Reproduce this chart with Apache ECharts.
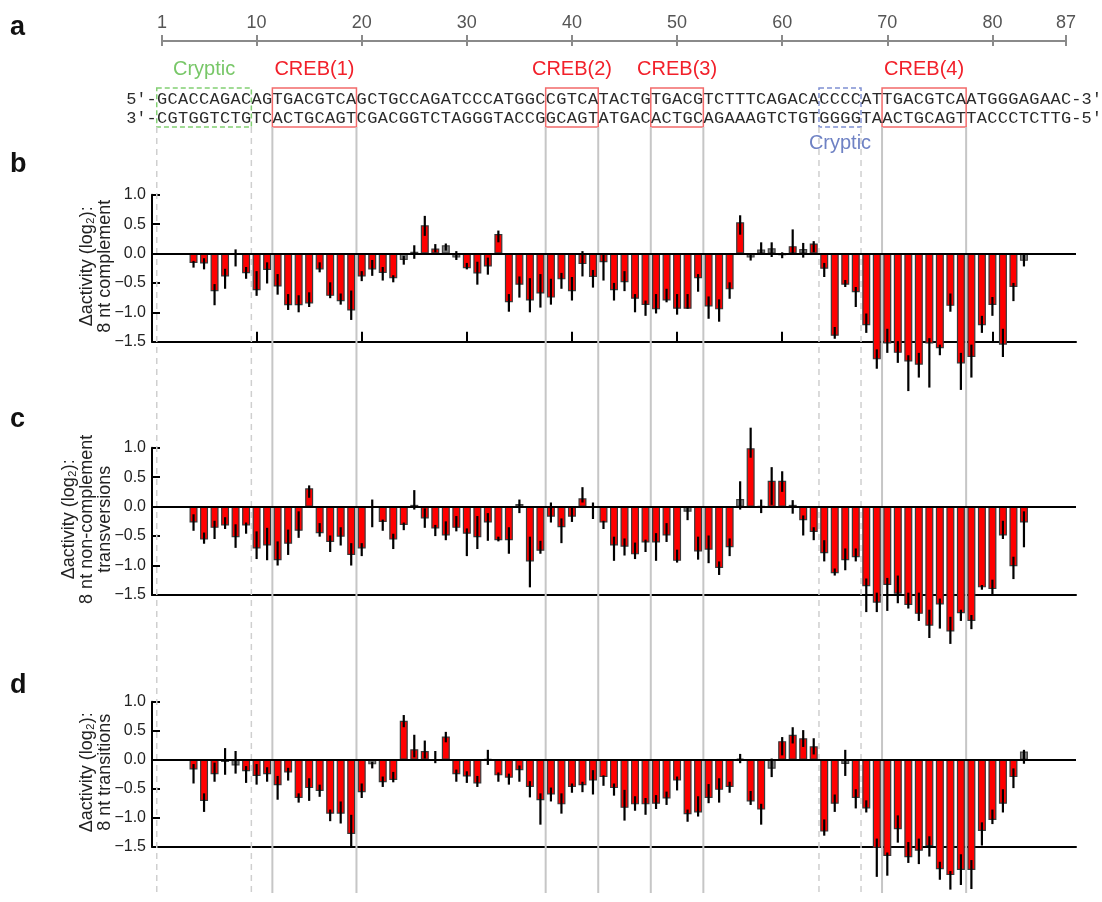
<!DOCTYPE html>
<html>
<head>
<meta charset="utf-8">
<title>CREB site scanning</title>
<style>
  html, body { margin: 0; padding: 0; background: #fff; }
  #main { width: 1102px; height: 902px; }
</style>
</head>
<body>
<div id="main"></div>
<script src="https://cdn.jsdelivr.net/npm/echarts@6/dist/echarts.min.js"></script>
<script>
// sequence (87 nt), top strand 5'->3', bottom strand 3'->5'
var seqTop    = 'GCACCAGACAGTGACGTCAGCTGCCAGATCCCATGGCCGTCATACTGTGACGTCTTTCAGACACCCCATTGACGTCAATGGGAGAAC';
var seqBottom = 'CGTGGTCTGTCACTGCAGTCGACGGTCTAGGGTACCGGCAGTATGACACTGCAGAAAGTCTGTGGGGTAACTGCAGTTACCCTCTTG';

var rulerTicks = [1, 10, 20, 30, 40, 50, 60, 70, 80, 87];
var panelTicks = [10, 20, 30, 40, 50, 60, 70, 80];

var siteNames = ['Cryptic', 'CREB(1)', 'CREB(2)', 'CREB(3)', 'Cryptic', 'CREB(4)'];
var siteFrom  = [1, 12, 38, 48, 64, 70];
var siteTo    = [9, 19, 42, 52, 67, 77];
var siteKind  = ['green', 'red', 'red', 'red', 'blue', 'red'];

// bars start at position 4 and run to 83
var firstPos = 4;

// b: 8 nt complement
var compVal = [-0.16,-0.17,-0.64,-0.39,-0.02,-0.335,-0.625,-0.28,-0.56,-0.88,
  -0.88,-0.85,-0.27,-0.72,-0.81,-0.97,-0.39,-0.27,-0.33,-0.42,
  -0.11,0.03,0.48,0.085,0.14,-0.07,-0.25,-0.34,-0.22,0.33,
  -0.83,-0.53,-0.8,-0.68,-0.75,-0.44,-0.64,-0.18,-0.4,-0.15,
  -0.625,-0.49,-0.77,-0.875,-0.95,-0.8,-0.94,-0.94,-0.42,-0.9,
  -0.95,-0.61,0.53,-0.07,0.07,0.09,-0.03,0.125,0.075,0.17,
  -0.26,-1.4,-0.53,-0.66,-1.22,-1.8,-1.53,-1.69,-1.835,-1.89,
  -1.53,-1.61,-0.89,-1.87,-1.76,-1.22,-0.875,-1.55,-0.57,-0.125];
var compLo = [-0.24,-0.27,-0.88,-0.6,-0.22,-0.43,-0.72,-0.51,-0.7,-0.96,
  -1.0,-0.91,-0.32,-0.76,-0.87,-1.13,-0.47,-0.38,-0.46,-0.49,
  -0.19,-0.09,0.3,0.02,0.05,-0.11,-0.27,-0.53,-0.36,0.19,
  -0.99,-0.75,-1.0,-0.92,-0.87,-0.6,-0.8,-0.39,-0.58,-0.46,
  -0.8,-0.64,-1.0,-1.06,-1.02,-0.83,-1.04,-0.94,-0.65,-1.11,
  -1.16,-0.77,0.32,-0.12,-0.02,-0.06,-0.08,-0.02,-0.07,0.02,
  -0.4,-1.45,-0.57,-0.91,-1.35,-1.96,-1.69,-1.86,-2.34,-2.11,
  -2.28,-1.73,-0.99,-2.32,-2.11,-1.35,-1.06,-1.76,-0.81,-0.22];
var compHi = [-0.125,-0.08,-0.52,-0.26,0.07,-0.23,-0.3,-0.15,-0.35,-0.69,
  -0.71,-0.66,-0.15,-0.49,-0.68,-0.63,-0.3,-0.11,-0.23,-0.37,
  -0.04,0.14,0.64,0.16,0.17,0.04,-0.16,-0.14,-0.07,0.39,
  -0.69,-0.39,-0.42,-0.35,-0.43,-0.33,-0.4,0.04,-0.28,-0.02,
  -0.5,-0.3,-0.69,-0.8,-0.69,-0.6,-0.69,-0.69,-0.35,-0.73,
  -0.78,-0.49,0.65,-0.02,0.19,0.19,0.02,0.41,0.18,0.21,
  -0.16,-1.25,-0.45,-0.57,-1.02,-1.63,-1.28,-1.49,-1.73,-1.69,
  -1.44,-1.55,-0.68,-1.69,-1.55,-1.06,-0.74,-1.28,-0.5,-0.02];
var compGray = [8, 24, 25, 28, 29, 57, 58, 59, 60, 62, 83];

// c: 8 nt non-complement transversions
var tvVal = [-0.27,-0.56,-0.36,-0.32,-0.52,-0.32,-0.71,-0.66,-0.91,-0.63,
  -0.41,0.31,-0.45,-0.6,-0.51,-0.82,-0.71,-0.02,-0.26,-0.56,
  -0.31,0.03,-0.2,-0.37,-0.49,-0.36,-0.46,-0.52,-0.27,-0.57,
  -0.57,0.045,-0.93,-0.75,-0.17,-0.35,-0.17,0.14,-0.01,-0.27,
  -0.66,-0.68,-0.81,-0.61,-0.61,-0.49,-0.92,-0.085,-0.76,-0.73,
  -1.04,-0.69,0.13,0.99,0.01,0.44,0.44,0.03,-0.23,-0.43,
  -0.79,-1.13,-0.91,-0.86,-1.35,-1.63,-1.33,-1.48,-1.67,-1.82,
  -2.02,-1.66,-2.12,-1.81,-1.94,-1.37,-1.4,-0.49,-1.01,-0.27];
var tvLo = [-0.41,-0.63,-0.55,-0.38,-0.7,-0.46,-0.89,-0.91,-1.0,-0.82,
  -0.53,0.15,-0.51,-0.77,-0.66,-1.0,-0.84,-0.35,-0.41,-0.72,
  -0.4,-0.05,-0.36,-0.5,-0.57,-0.42,-0.84,-0.72,-0.58,-0.59,
  -0.8,-0.11,-1.37,-0.8,-0.27,-0.62,-0.26,0.07,-0.21,-0.38,
  -0.92,-0.83,-0.89,-0.77,-0.92,-0.6,-0.95,-0.23,-0.9,-0.96,
  -1.16,-0.84,-0.05,0.83,-0.11,0.03,0.25,-0.12,-0.49,-0.57,
  -0.93,-1.17,-1.08,-0.93,-1.79,-1.79,-1.77,-1.64,-1.73,-1.94,
  -2.23,-2.07,-2.33,-1.94,-2.08,-1.41,-1.51,-0.55,-1.23,-0.69];
var tvHi = [-0.13,-0.44,-0.24,-0.18,-0.3,-0.27,-0.42,-0.36,-0.59,-0.39,
  -0.08,0.36,-0.28,-0.49,-0.35,-0.62,-0.62,0.12,-0.22,-0.46,
  -0.27,0.28,-0.03,-0.31,-0.25,-0.16,-0.37,-0.16,-0.11,-0.51,
  -0.35,0.12,-0.51,-0.58,0.07,-0.2,-0.01,0.33,0.07,-0.24,
  -0.51,-0.54,-0.61,-0.56,-0.45,-0.28,-0.73,-0.01,-0.51,-0.49,
  -0.93,-0.54,0.43,1.34,0.12,0.67,0.6,0.11,-0.15,-0.35,
  -0.57,-1.05,-0.71,-0.71,-1.22,-1.46,-1.21,-1.17,-1.46,-1.46,
  -1.75,-1.56,-1.87,-1.75,-1.84,-1.33,-1.24,-0.24,-0.85,-0.08];
var tvGray = [21, 25, 35, 42, 51, 56, 58, 61];

// d: 8 nt transitions
var tsVal = [-0.17,-0.71,-0.25,-0.04,-0.1,-0.2,-0.28,-0.25,-0.44,-0.22,
  -0.66,-0.49,-0.54,-0.93,-0.93,-1.28,-0.56,-0.08,-0.39,-0.35,
  0.67,0.18,0.15,-0.02,0.4,-0.25,-0.29,-0.41,0.01,-0.27,
  -0.31,-0.18,-0.47,-0.7,-0.6,-0.77,-0.47,-0.44,-0.36,-0.3,
  -0.49,-0.83,-0.77,-0.77,-0.76,-0.67,-0.36,-0.94,-0.91,-0.66,
  -0.52,-0.47,0.02,-0.72,-0.86,-0.155,0.32,0.43,0.37,0.23,
  -1.24,-0.76,-0.075,-0.66,-0.84,-1.52,-1.66,-1.2,-1.68,-1.57,
  -1.49,-1.89,-1.99,-1.9,-1.9,-1.23,-1.04,-0.76,-0.3,0.14];
var tsLo = [-0.41,-0.9,-0.38,-0.26,-0.24,-0.4,-0.43,-0.38,-0.69,-0.36,
  -0.74,-0.71,-0.64,-1.06,-1.1,-1.52,-0.66,-0.15,-0.47,-0.39,
  0.56,0.04,0.02,-0.06,0.3,-0.38,-0.4,-0.47,-0.09,-0.38,
  -0.43,-0.38,-0.65,-1.12,-0.72,-0.93,-0.57,-0.56,-0.6,-0.45,
  -0.62,-1.05,-0.88,-0.95,-0.85,-0.78,-0.53,-1.07,-0.98,-0.75,
  -0.74,-0.57,-0.06,-0.78,-1.12,-0.3,0.075,0.28,0.22,0.09,
  -1.31,-0.9,-0.28,-0.84,-0.91,-2.02,-2.0,-1.43,-1.78,-1.8,
  -1.67,-2.07,-2.24,-2.16,-2.23,-1.48,-1.11,-0.91,-0.49,-0.07];
var tsHi = [-0.075,-0.58,-0.05,0.2,0.15,-0.11,-0.075,-0.13,-0.28,-0.14,
  -0.58,-0.32,-0.43,-0.86,-0.72,-0.95,-0.41,-0.035,-0.29,-0.21,
  0.77,0.43,0.33,0.15,0.48,-0.17,-0.2,-0.28,0.17,-0.22,
  -0.24,-0.1,-0.37,-0.58,-0.48,-0.58,-0.41,-0.38,-0.18,-0.27,
  -0.41,-0.52,-0.63,-0.66,-0.61,-0.55,-0.29,-0.86,-0.63,-0.42,
  -0.32,-0.38,0.1,-0.54,-0.76,0.02,0.39,0.56,0.51,0.37,
  -1.03,-0.6,0.17,-0.51,-0.7,-1.36,-1.6,-0.96,-1.42,-1.36,
  -1.32,-1.76,-1.92,-1.63,-1.73,-1.08,-0.86,-0.51,-0.15,0.17];
var tsGray = [7, 8, 21, 27, 32, 56, 59, 66, 83];

var panels = [
  { key: 'b', val: compVal, lo: compLo, hi: compHi, gray: compGray, top: 194.7, height: 147, letterY: 165,
    title: 'Δactivity (log₂):\n8 nt complement', titleX: 96, ticks: true },
  { key: 'c', val: tvVal, lo: tvLo, hi: tvHi, gray: tvGray, top: 447.7, height: 147.3, letterY: 420,
    title: 'Δactivity (log₂):\n8 nt non-complement\ntransversions', titleX: 87, ticks: false },
  { key: 'd', val: tsVal, lo: tsLo, hi: tsHi, gray: tsGray, top: 701.7, height: 145, letterY: 686,
    title: 'Δactivity (log₂):\n8 nt transitions', titleX: 96, ticks: false }
];

// layout: ruler runs 1..87 from x=162 to x=1066, panels span x=152..1076
var rulerLeft = 162, rulerRight = 1066, panelLeft = 152, panelRight = 1076;
var pxPerNt = (rulerRight - rulerLeft) / 86;
var panelMin = 1 - (rulerLeft - panelLeft) / pxPerNt;
var panelMax = 1 + (panelRight - rulerLeft) / pxPerNt;

var SANS = '"Liberation Sans", Arial, Helvetica, sans-serif';
var MONO = '"Liberation Mono", "Courier New", monospace';
var boxColor = { green: '#82cf73', red: '#f26a6a', blue: '#7f90d2' };
var labelColor = { green: '#78c768', red: '#f2202a', blue: '#6f82c4' };

var grids = [{ left: rulerLeft, top: 40, width: rulerRight - rulerLeft, height: 1 }];
var xAxes = [
  { gridIndex: 0, type: 'value', min: 1, max: 87, position: 'top',
    axisLine: { lineStyle: { color: '#8a8a8a', width: 2 } },
    axisTick: { customValues: rulerTicks, length: 6, lineStyle: { color: '#8a8a8a', width: 2 } },
    axisLabel: { customValues: rulerTicks, fontSize: 18, color: '#555', fontFamily: SANS, margin: 8 },
    splitLine: { show: false } },
  { gridIndex: 0, type: 'value', min: 1, max: 87, position: 'bottom',
    axisLine: { show: false },
    axisTick: { customValues: rulerTicks, length: 5, lineStyle: { color: '#8a8a8a', width: 2 } },
    axisLabel: { show: false }, splitLine: { show: false } }
];
var yAxes = [{ gridIndex: 0, type: 'value', min: 0, max: 1, show: false }];

var seqData = [];
for (var i = 0; i < seqTop.length; i++) {
  seqData.push([i + 1, 0]);
  seqData.push([i + 1, 1]);
}
var siteData = siteFrom.map(function (f, i) { return [f, siteTo[i]]; });

var series = [
  { type: 'custom', xAxisIndex: 0, yAxisIndex: 0, z: 1, silent: true, data: siteData,
    renderItem: function (params, api) {
      var i = params.dataIndex, kind = siteKind[i];
      var x0 = api.coord([api.value(0) - 0.5, 0])[0];
      var x1 = api.coord([api.value(1) + 0.5, 0])[0];
      var dashed = kind !== 'red';
      var guide = { stroke: dashed ? '#cfcfcf' : '#c6c6c6', lineWidth: dashed ? 1.5 : 2, lineDash: dashed ? [6, 5] : null };
      return { type: 'group', children: [
        { type: 'rect', shape: { x: x0, y: 88, width: x1 - x0, height: 39 },
          style: { fill: null, stroke: boxColor[kind], lineWidth: 1.5, lineDash: dashed ? [5, 3] : null } },
        { type: 'line', shape: { x1: x0, y1: 127, x2: x0, y2: 893 }, style: guide },
        { type: 'line', shape: { x1: x1, y1: 127, x2: x1, y2: 893 }, style: guide },
        { type: 'text', x: (x0 + x1) / 2, y: kind === 'blue' ? 143 : 69,
          style: { text: siteNames[i], fill: labelColor[kind], font: '20px ' + SANS,
                   textAlign: 'center', textVerticalAlign: 'middle' } }
      ] };
    } },
  { type: 'custom', xAxisIndex: 0, yAxisIndex: 0, z: 6, silent: true, data: seqData,
    renderItem: function (params, api) {
      var pos = api.value(0), strand = api.value(1);
      var x = api.coord([pos, 0])[0];
      var ch = (strand === 0 ? seqTop : seqBottom).charAt(pos - 1);
      return { type: 'text', x: x, y: strand === 0 ? 99 : 118,
        style: { text: ch, fill: '#2a2a2a', font: '17px ' + MONO, textAlign: 'center', textVerticalAlign: 'middle' } };
    } }
];

var graphics = [
  { type: 'text', x: 10, y: 28, style: { text: 'a', font: 'bold 27px ' + SANS, fill: '#111', textVerticalAlign: 'middle' } },
  { type: 'text', x: rulerLeft - pxPerNt / 2, y: 99, style: { text: '5′-', font: '17px ' + MONO, fill: '#2a2a2a', textAlign: 'right', textVerticalAlign: 'middle' } },
  { type: 'text', x: rulerLeft - pxPerNt / 2, y: 118, style: { text: '3′-', font: '17px ' + MONO, fill: '#2a2a2a', textAlign: 'right', textVerticalAlign: 'middle' } },
  { type: 'text', x: rulerRight + pxPerNt / 2, y: 99, style: { text: '-3′', font: '17px ' + MONO, fill: '#2a2a2a', textAlign: 'left', textVerticalAlign: 'middle' } },
  { type: 'text', x: rulerRight + pxPerNt / 2, y: 118, style: { text: '-5′', font: '17px ' + MONO, fill: '#2a2a2a', textAlign: 'left', textVerticalAlign: 'middle' } }
];

panels.forEach(function (p, k) {
  var gi = k + 1;      // grid and y axis index
  var xi = k + 2;      // x axis index (two x axes on the ruler grid)
  grids.push({ left: panelLeft, top: p.top, width: panelRight - panelLeft, height: p.height });
  xAxes.push({ gridIndex: gi, type: 'value', min: panelMin, max: panelMax,
    axisLine: { onZero: false, lineStyle: { color: '#000', width: 2 } },
    axisTick: { show: p.ticks, customValues: panelTicks, inside: true, length: 10, lineStyle: { color: '#000', width: 2 } },
    axisLabel: { show: false }, splitLine: { show: false } });
  yAxes.push({ gridIndex: gi, type: 'value', min: -1.5, max: 1, interval: 0.5,
    axisLine: { show: true, lineStyle: { color: '#000', width: 2 } },
    axisTick: { show: true, inside: true, length: 8, lineStyle: { color: '#000', width: 2 } },
    axisLabel: { fontSize: 16, color: '#222', fontFamily: SANS, margin: 6,
      formatter: function (v) { return (v < 0 ? '\u2212' : '') + Math.abs(v).toFixed(1); } },
    splitLine: { show: false } });

  var barData = [], errData = [];
  p.val.forEach(function (v, i) {
    var pos = firstPos + i;
    var isGray = p.gray.indexOf(pos) >= 0;
    barData.push({ value: [pos, v], itemStyle: { color: isGray ? '#808080' : '#ff0000', borderColor: isGray ? '#444' : '#3a3a3a' } });
    errData.push([pos, p.lo[i], p.hi[i]]);
  });
  series.push({ type: 'bar', xAxisIndex: xi, yAxisIndex: gi, z: 3, clip: false, silent: true,
    barWidth: 8, itemStyle: { borderWidth: 1.2 }, data: barData,
    markLine: { silent: true, symbol: ['none', 'none'], animation: false, label: { show: false },
      lineStyle: { color: '#000', width: 2, type: 'solid' }, data: [{ yAxis: 0 }] } });
  series.push({ type: 'custom', xAxisIndex: xi, yAxisIndex: gi, z: 4, silent: true, data: errData,
    renderItem: function (params, api) {
      var a = api.coord([api.value(0), api.value(1)]);
      var b = api.coord([api.value(0), api.value(2)]);
      return { type: 'line', shape: { x1: a[0], y1: a[1], x2: b[0], y2: b[1] },
        style: { stroke: '#000', lineWidth: 2.2 } };
    } });

  graphics.push({ type: 'text', x: 10, y: p.letterY, style: { text: p.key, font: 'bold 27px ' + SANS, fill: '#111', textVerticalAlign: 'middle' } });
  graphics.push({ type: 'text', x: p.titleX, y: p.top + p.height / 2 - 2, rotation: Math.PI / 2,
    style: { text: p.title, font: '18px ' + SANS, fill: '#222', lineHeight: 18,
             textAlign: 'center', textVerticalAlign: 'middle' } });
});

var chart = echarts.init(document.getElementById('main'), null, { renderer: 'canvas' });
chart.setOption({
  animation: false,
  backgroundColor: '#fff',
  grid: grids,
  xAxis: xAxes,
  yAxis: yAxes,
  series: series,
  graphic: graphics
});
</script>
</body>
</html>
